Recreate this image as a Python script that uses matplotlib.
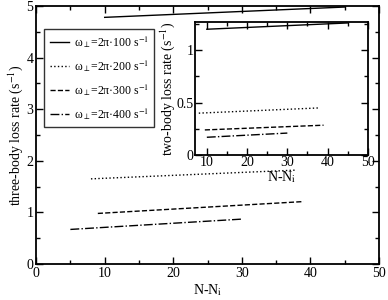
import matplotlib
matplotlib.use("Agg")
import matplotlib.pyplot as plt
from matplotlib.ticker import MultipleLocator

plt.rcParams['font.family'] = ['Liberation Serif', 'DejaVu Serif']
plt.rcParams['mathtext.fontset'] = 'stix'
plt.rcParams['font.size'] = 10

labels = [r'ω$_\perp$=2π·100 s$^{-1}$',
          r'ω$_\perp$=2π·200 s$^{-1}$',
          r'ω$_\perp$=2π·300 s$^{-1}$',
          r'ω$_\perp$=2π·400 s$^{-1}$']
styles = ['-', ':', '--', '-.']

# three-body (main) series: start/end points
main_x = [[10, 45], [8, 38], [9, 39], [5, 30]]
main_y = [[4.78, 4.98], [1.65, 1.82], [0.98, 1.21], [0.67, 0.87]]

# two-body (inset) series
ins_x = [[10, 45], [8, 38], [9.5, 39], [10, 30]]
ins_y = [[1.20, 1.26], [0.40, 0.45], [0.24, 0.285], [0.17, 0.21]]

fig = plt.figure(figsize=(3.88, 3.0), dpi=100)
ax = fig.add_axes([0.093, 0.12, 0.884, 0.86])
for xs, ys, ls, lb in zip(main_x, main_y, styles, labels):
    ax.plot(xs, ys, ls, color='black', lw=1.0, label=lb)
ax.set_xlim(0, 50)
ax.set_ylim(0, 5)
ax.xaxis.set_major_locator(MultipleLocator(10))
ax.xaxis.set_minor_locator(MultipleLocator(5))
ax.yaxis.set_major_locator(MultipleLocator(1))
ax.yaxis.set_minor_locator(MultipleLocator(0.5))
ax.tick_params(which='both', direction='in', top=True, right=True, pad=2)
ax.tick_params(which='major', length=5, width=1)
ax.tick_params(which='minor', length=3, width=1)
for s in ax.spines.values():
    s.set_linewidth(1.3)
ax.set_xlabel(r'N-N$_\mathrm{i}$', labelpad=2)
ax.set_ylabel(r'three-body loss rate (s$^{-1}$)', labelpad=1)
leg = ax.legend(loc='upper left', bbox_to_anchor=(0.024, 0.912), frameon=True,
                fancybox=False, edgecolor='black', handlelength=1.6,
                borderpad=0.45, labelspacing=0.7, handletextpad=0.45,
                borderaxespad=0, fontsize=8.5)
leg.get_frame().set_linewidth(1.0)

ins = fig.add_axes([0.503, 0.483, 0.445, 0.444])
for xs, ys, ls in zip(ins_x, ins_y, styles):
    ins.plot(xs, ys, ls, color='black', lw=1.0)
ins.set_xlim(7.1, 50)
ins.set_ylim(0, 1.27)
ins.xaxis.set_major_locator(MultipleLocator(10))
ins.xaxis.set_minor_locator(MultipleLocator(5))
ins.yaxis.set_major_locator(MultipleLocator(0.5))
ins.yaxis.set_minor_locator(MultipleLocator(0.25))
ins.tick_params(which='both', direction='in', top=True, right=True, pad=1)
ins.tick_params(which='major', length=5, width=1)
ins.tick_params(which='minor', length=3, width=1)
for s in ins.spines.values():
    s.set_linewidth(1.3)
ins.set_yticks([0, 0.5, 1])
ins.set_yticklabels(['0', '0.5', '1'])
ins.set_xlabel(r'N-N$_\mathrm{i}$', labelpad=0)
ins.set_ylabel(r'two-body loss rate (s$^{-1}$)', labelpad=0)

fig.savefig('out.png', dpi=100)
